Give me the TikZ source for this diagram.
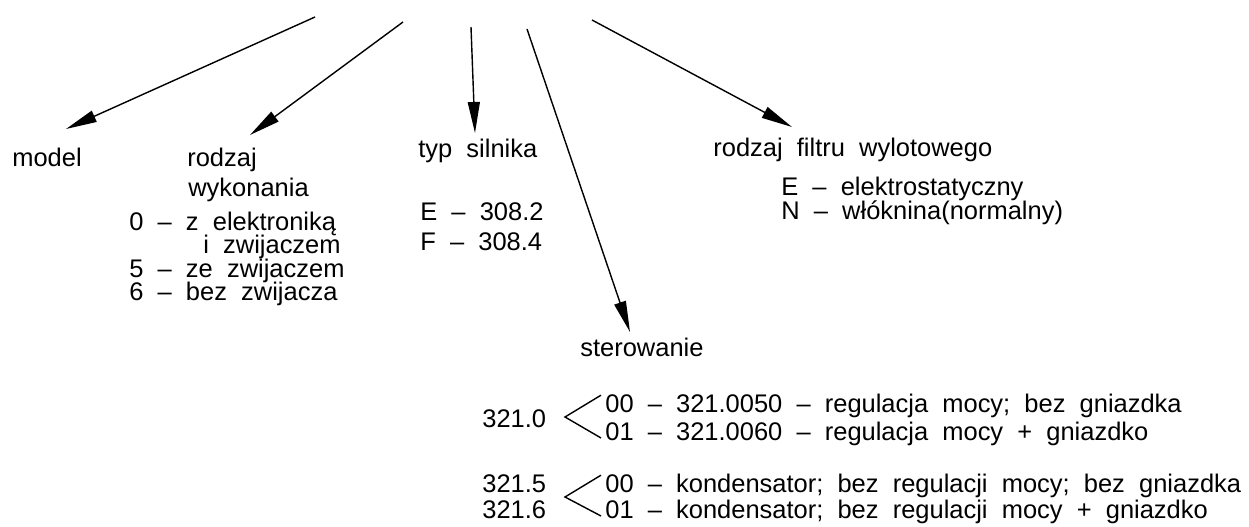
\documentclass[tikz,border=0pt]{standalone}
\usepackage{fontspec}
\setmainfont[WordSpace=2]{Liberation Sans}
\usepackage{tikz}
\usetikzlibrary{arrows.meta, calc}

\begin{document}
\begin{tikzpicture}[x=0.02cm, y=-0.02cm,
	tekst/.style={anchor=base west, inner sep=0pt, font=\fontsize{14.5}{13}\selectfont},
	strzalka/.style={line width=0.8pt, -{Triangle[length=0.62cm, width=0.24cm]}},
	klamra/.style={line width=0.8pt}]

	\useasboundingbox (0,0) rectangle (1249,527);

	% start points of the arrows (top)
	\coordinate (s1) at (315,17);
	\coordinate (s2) at (403,22);
	\coordinate (s3) at (471,27);
	\coordinate (s4) at (527,29);
	\coordinate (s5) at (592,20);
	% arrow tips
	\coordinate (t1) at (66,129);
	\coordinate (t2) at (250,135);
	\coordinate (t3) at (475,133);
	\coordinate (t4) at (630,332);
	\coordinate (t5) at (792,127);

	\node[tekst] (model) at (12,167) {model};
	\node[tekst] (rodzaj) at (187,167) {rodzaj};
	\node[tekst] (wykonania) at (188,196) {wykonania};
	\node[tekst] (w0) at (129,231) {0 -- z elektroniką};
	\node[tekst] (wi) at (203,254) {i zwijaczem};
	\node[tekst] (w5) at (129,277) {5 -- ze zwijaczem};
	\node[tekst] (w6) at (129,300) {6 -- bez zwijacza};

	\node[tekst] (silnik) at (418,158) {typ silnika};
	\node[tekst] (sE) at (420,221) {E -- 308.2};
	\node[tekst] (sF) at (420,251) {F -- 308.4};

	\node[tekst] (sterowanie) at (580,357) {sterowanie};

	\node[tekst] (filtr) at (713,157) {rodzaj filtru wylotowego};
	\node[tekst] (fE) at (781,195) {E -- elektrostatyczny};
	\node[tekst] (fN) at (781,219) {N -- włóknina(normalny)};

	% sterowanie: variants
	\node[tekst] (l3210) at (482,427) {321.0};
	\node[tekst] (r00) at (605,412) {00 -- 321.0050 -- regulacja mocy; bez gniazdka};
	\node[tekst] (r01) at (605,440) {01 -- 321.0060 -- regulacja mocy + gniazdko};

	\node[tekst] (l3215) at (482,492) {321.5};
	\node[tekst] (l3216) at (482,518) {321.6};
	\node[tekst] (k00) at (605,492) {00 -- kondensator; bez regulacji mocy; bez gniazdka};
	\node[tekst] (k01) at (605,518) {01 -- kondensator; bez regulacji mocy + gniazdko};

	\coordinate (w1) at (565,417);
	\coordinate (w2) at (565,497);

	\draw[strzalka] (s1) -- (t1);
	\draw[strzalka] (s2) -- (t2);
	\draw[strzalka] (s3) -- (t3);
	\draw[strzalka] (s4) -- (t4);
	\draw[strzalka] (s5) -- (t5);

	\draw[klamra] ($ (r00.north west)+(-4,2) $) -- (w1) -- ($ (r01.base west)+(-4,-2) $);
	\draw[klamra] ($ (k00.north west)+(-4,2) $) -- (w2) -- ($ (k01.base west)+(-4,-2) $);

\end{tikzpicture}
\end{document}
